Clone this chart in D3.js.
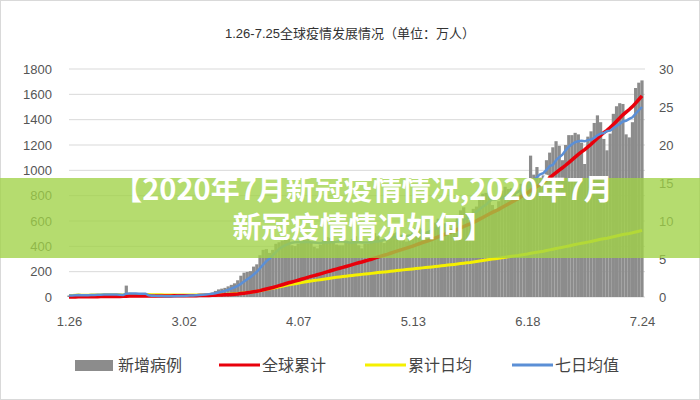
<!DOCTYPE html>
<html><head><meta charset="utf-8">
<script src="https://cdn.jsdelivr.net/npm/d3@7"></script>
<style>body{margin:0;background:#fff}svg{font-family:"Liberation Sans","Noto Sans CJK SC",sans-serif}</style>
</head><body><svg id="c" width="700" height="400"></svg>
<script>
const title = "1.26-7.25全球疫情发展情况（单位：万人）";
const tickLabels = ["1.26","3.02","4.07","5.13","6.18","7.24"];
const leftTicks = [0,200,400,600,800,1000,1200,1400,1600,1800];
const rightTicks = [0,5,10,15,20,25,30];
const seriesNames = ["新增病例","全球累计","累计日均","七日均值"];
const seriesColors = ["#8c8c8c","#e8000b","#f5f000","#5b8fd6"];
// daily new cases (万人), 1.26 – 7.24
const dailyJan = [0.2,0.2,0.3,0.3,0.2,0.2];
const dailyFeb = [0.3,0.3,0.35,0.35,0.35,0.35,0.3,0.3,0.3,0.3,0.2,0.2,1.5,0.5,0.25,0.2,0.2,0.2,0.18,0.1,0.1,0.1,0.12,0.1,0.1,0.1,0.12,0.15,0.15];
const dailyMar = [0.2,0.2,0.2,0.25,0.3,0.35,0.4,0.4,0.45,0.5,0.6,0.8,1.0,1.1,1.2,1.4,1.6,1.8,2.2,2.8,3.2,3.3,3.4,4.0,4.3,5.5,6.2,6.3,5.8,6.2,7.0];
const dailyApr = [7.2,7.4,7.8,7.6,6.8,6.7,7.0,7.2,7.8,7.6,7.3,6.6,6.4,6.9,7.5,7.9,7.8,7.4,6.9,6.8,6.8,7.2,7.3,7.6,8.0,6.8,6.4,7.0,7.0,7.5];
const dailyMay = [8.4,8.0,7.5,7.1,7.6,8.6,8.4,8.5,8.2,7.7,7.3,8.0,8.5,9.1,9.1,8.9,8.1,8.4,9.2,9.8,10.3,10.2,9.7,9.2,9.0,9.6,10.8,11.4,11.8,10.9,10.1];
const dailyJun = [11.6,11.9,13.2,13.6,13.7,13.9,12.1,11.5,12.6,14.0,14.5,14.2,14.3,14.0,13.2,14.9,15.0,15.5,18.6,16.1,17.1,15.7,16.0,18.0,19.0,19.7,20.5,19.9,18.0,20.0];
const dailyJul = [21.3,21.3,21.6,21.4,20.3,17.5,21.1,21.8,22.9,23.9,23.0,20.8,19.3,21.5,24.1,25.1,25.5,25.4,21.4,21.0,23.0,27.5,28.2,28.5];
const banner = ["【2020年7月新冠疫情情况,2020年7月","新冠疫情情况如何】"];

const daily = [].concat(dailyJan,dailyFeb,dailyMar,dailyApr,dailyMay,dailyJun,dailyJul);
let s=0; const cum = daily.map(v=>s+=v);
const avg = cum.map((c,i)=>c/(i+1));
const ma7 = daily.map((v,i)=>{const a=daily.slice(Math.max(0,i-6),i+1);return d3.mean(a);});

const svg = d3.select("#c");
svg.append("rect").attr("x",0.5).attr("y",0.5).attr("width",699).attr("height",399).attr("fill","#fff").attr("stroke","#d9d9d9");
svg.append("text").attr("x",350).attr("y",38).attr("text-anchor","middle").attr("font-size",13).attr("fill","#333").text(title);

const x = d3.scaleLinear().domain([0,daily.length-1]).range([69,642]);
const yL = d3.scaleLinear().domain([0,1800]).range([297,69]);
const yR = d3.scaleLinear().domain([0,30]).range([297,69]);

svg.append("g").selectAll("line").data(leftTicks).join("line")
 .attr("x1",69).attr("x2",645).attr("y1",d=>yL(d)).attr("y2",d=>yL(d)).attr("stroke","#d9d9d9");
svg.append("g").selectAll("rect").data(daily).join("rect")
 .attr("x",(d,i)=>x(i)-1.6).attr("width",3.2).attr("y",d=>yR(d)).attr("height",d=>297-yR(d)).attr("fill",seriesColors[0]);
const line=(sc,arr)=>d3.line().x((d,i)=>x(i)).y(d=>sc(d))(arr);
svg.append("path").attr("d",line(yR,avg)).attr("fill","none").attr("stroke",seriesColors[2]).attr("stroke-width",3);
svg.append("path").attr("d",line(yL,cum)).attr("fill","none").attr("stroke",seriesColors[1]).attr("stroke-width",3.5);
svg.append("path").attr("d",line(yR,ma7)).attr("fill","none").attr("stroke",seriesColors[3]).attr("stroke-width",2.5);

const axL = svg.append("g").attr("transform","translate(55,0)").call(d3.axisLeft(yL).tickValues(leftTicks).tickFormat(d3.format("d")).tickSize(0));
const axR = svg.append("g").attr("transform","translate(656,0)").call(d3.axisRight(yR).tickValues(rightTicks).tickSize(0));
const axB = svg.append("g").attr("transform","translate(0,314)").call(d3.axisBottom(x).tickValues(tickLabels.map((t,i)=>i*36)).tickFormat((d,i)=>tickLabels[i]).tickSize(0));
[axL,axR,axB].forEach(a=>{a.select(".domain").remove();a.selectAll("text").attr("font-size",13).attr("fill","#555");});

const lg = svg.append("g");
const lx=[75,219,365,512];
seriesNames.forEach((n,i)=>{
 if(i===0) lg.append("rect").attr("x",lx[i]).attr("y",360).attr("width",38).attr("height",11).attr("fill",seriesColors[0]);
 else lg.append("line").attr("x1",lx[i]).attr("x2",lx[i]+41).attr("y1",365).attr("y2",365).attr("stroke",seriesColors[i]).attr("stroke-width",3);
 lg.append("text").attr("x",lx[i]+43).attr("y",371).attr("font-size",16).attr("fill","#444").text(n);
});

svg.append("rect").attr("x",0).attr("y",178).attr("width",700).attr("height",80).attr("fill","rgba(160,210,70,0.78)");
banner.forEach((t,i)=>svg.append("text").attr("x",363).attr("y",200+i*38).attr("text-anchor","middle")
 .attr("font-size",29).attr("font-weight","bold").attr("fill","#fff").attr("font-family","'Noto Sans CJK SC',sans-serif").text(t));
</script></body></html>
